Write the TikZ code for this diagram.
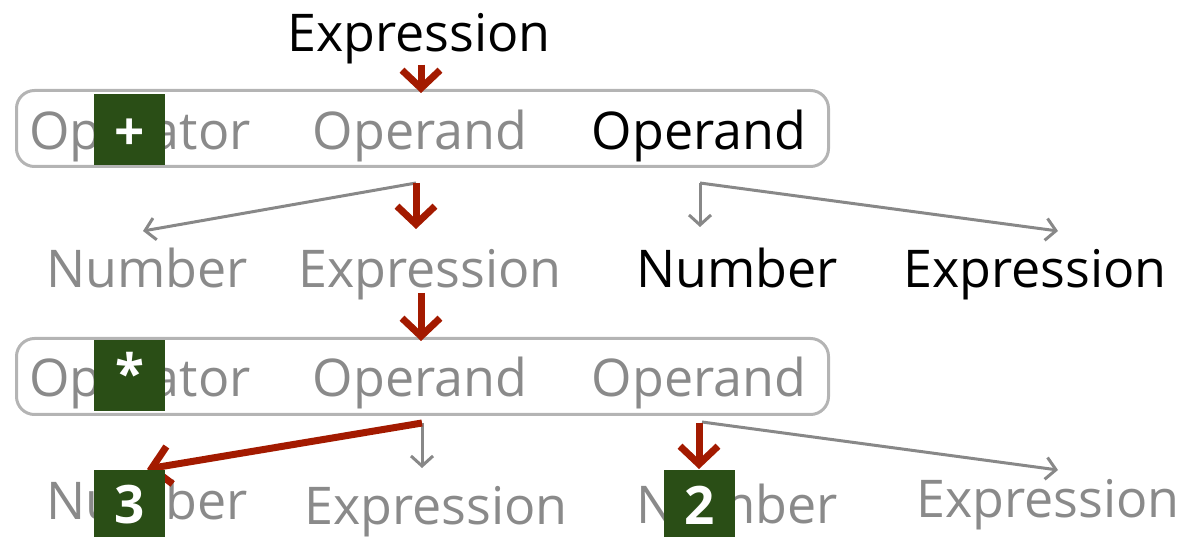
\documentclass[tikz,border=0pt]{standalone}
\usepackage{fontspec}
\setmainfont{Open Sans}
\usetikzlibrary{arrows.meta}
\definecolor{txtgray}{HTML}{8A8A8A}
\definecolor{boxgray}{HTML}{B4B4B4}
\definecolor{arrgray}{HTML}{888888}
\definecolor{arrred}{HTML}{A31A00}
\definecolor{sqgreen}{HTML}{2A4E16}
\begin{document}
\begin{tikzpicture}[x=1pt,y=-1pt,
 txt/.style={inner sep=0pt, anchor=base, font=\fontsize{52}{60}\selectfont, text=txtgray},
 blk/.style={txt, text=black},
 grp/.style={draw=boxgray, line width=3pt, rounded corners=18pt, minimum width=812pt, minimum height=76pt, inner sep=0pt},
 gsq/.style={fill=sqgreen, minimum size=71pt, inner sep=0pt},
 sqtxt/.style={inner sep=0pt, text=white, font=\fontsize{53}{60}\selectfont\bfseries},
 redarr/.style={draw=arrred, line width=7pt, -{Straight Barb[length=18pt,width=38pt]}},
 grayarr/.style={draw=arrgray, line width=3pt, -{Straight Barb[length=10pt,width=22pt]}},
]
\useasboundingbox (0,0) rectangle (1195,537);
% boxes
\node[grp] (box1) at (422.5,128.5) {};
\node[grp] (box2) at (422.5,376.5) {};
% texts
\node[blk] (e0) at (419,52) {Expression};
\node[txt] (op1) at (140,150) {Operator};
\node[txt] (od1a) at (420,150) {Operand};
\node[blk] (od1b) at (699,150) {Operand};
\node[txt] (n2a) at (147,288) {Number};
\node[txt] (e2a) at (430,288) {Expression};
\node[blk] (n2b) at (737,288) {Number};
\node[blk] (e2b) at (1035,288) {Expression};
\node[txt] (op2) at (140,397) {Operator};
\node[txt] (od2a) at (420,397) {Operand};
\node[txt] (od2b) at (699,397) {Operand};
\node[txt] (n3a) at (147,519) {Number};
\node[txt] (e3a) at (436,524) {Expression};
\node[txt] (n3b) at (737,523) {Number};
\node[txt] (e3b) at (1048,517) {Expression};
% connector points
\coordinate (t1) at (421,93);
\coordinate (s1a) at (416,183);
\coordinate (t1L) at (143,231);
\coordinate (t1D) at (416,229);
\coordinate (s1b) at (700,183);
\coordinate (t1bD) at (700,227);
\coordinate (t1bR) at (1058,231);
\coordinate (s2) at (421,293);
\coordinate (t2) at (421,341);
\coordinate (s3a) at (422,423);
\coordinate (t3L) at (147,469);
\coordinate (t3D) at (422,468);
\coordinate (s3b) at (699,423);
\coordinate (t3bD) at (699,469);
\coordinate (s3c) at (702,422);
\coordinate (t3bR) at (1058,470);
% arrows
\draw[redarr] (e0.south -| t1) -- (t1);
\draw[grayarr] (s1a) -- (t1L);
\draw[redarr] (s1a) -- (t1D);
\draw[grayarr] (s1b) -- (t1bD);
\draw[grayarr] (s1b) -- (t1bR);
\draw[redarr] (s2) -- (t2);
\draw[grayarr] (s3a) -- (t3D);
\draw[redarr] (s3a) -- (t3L);
\draw[grayarr] (s3c) -- (t3bR);
\draw[redarr] (s3b) -- (t3bD);
% green squares
\node[gsq] (sq1) at (129.5,129.5) {};
\node[gsq] (sq2) at (129.5,375.5) {};
\node[gsq] (sq3) at (129.5,505.5) {};
\node[gsq] (sq4) at (699.5,505.5) {};
\node[sqtxt] (plus) at (129.5,134.5) {+};
\node[sqtxt] (star) at (129.5,372.5) {*};
\node[sqtxt] (three) at (129.5,505) {3};
\node[sqtxt] (two) at (699.5,505) {2};
\end{tikzpicture}
\end{document}
